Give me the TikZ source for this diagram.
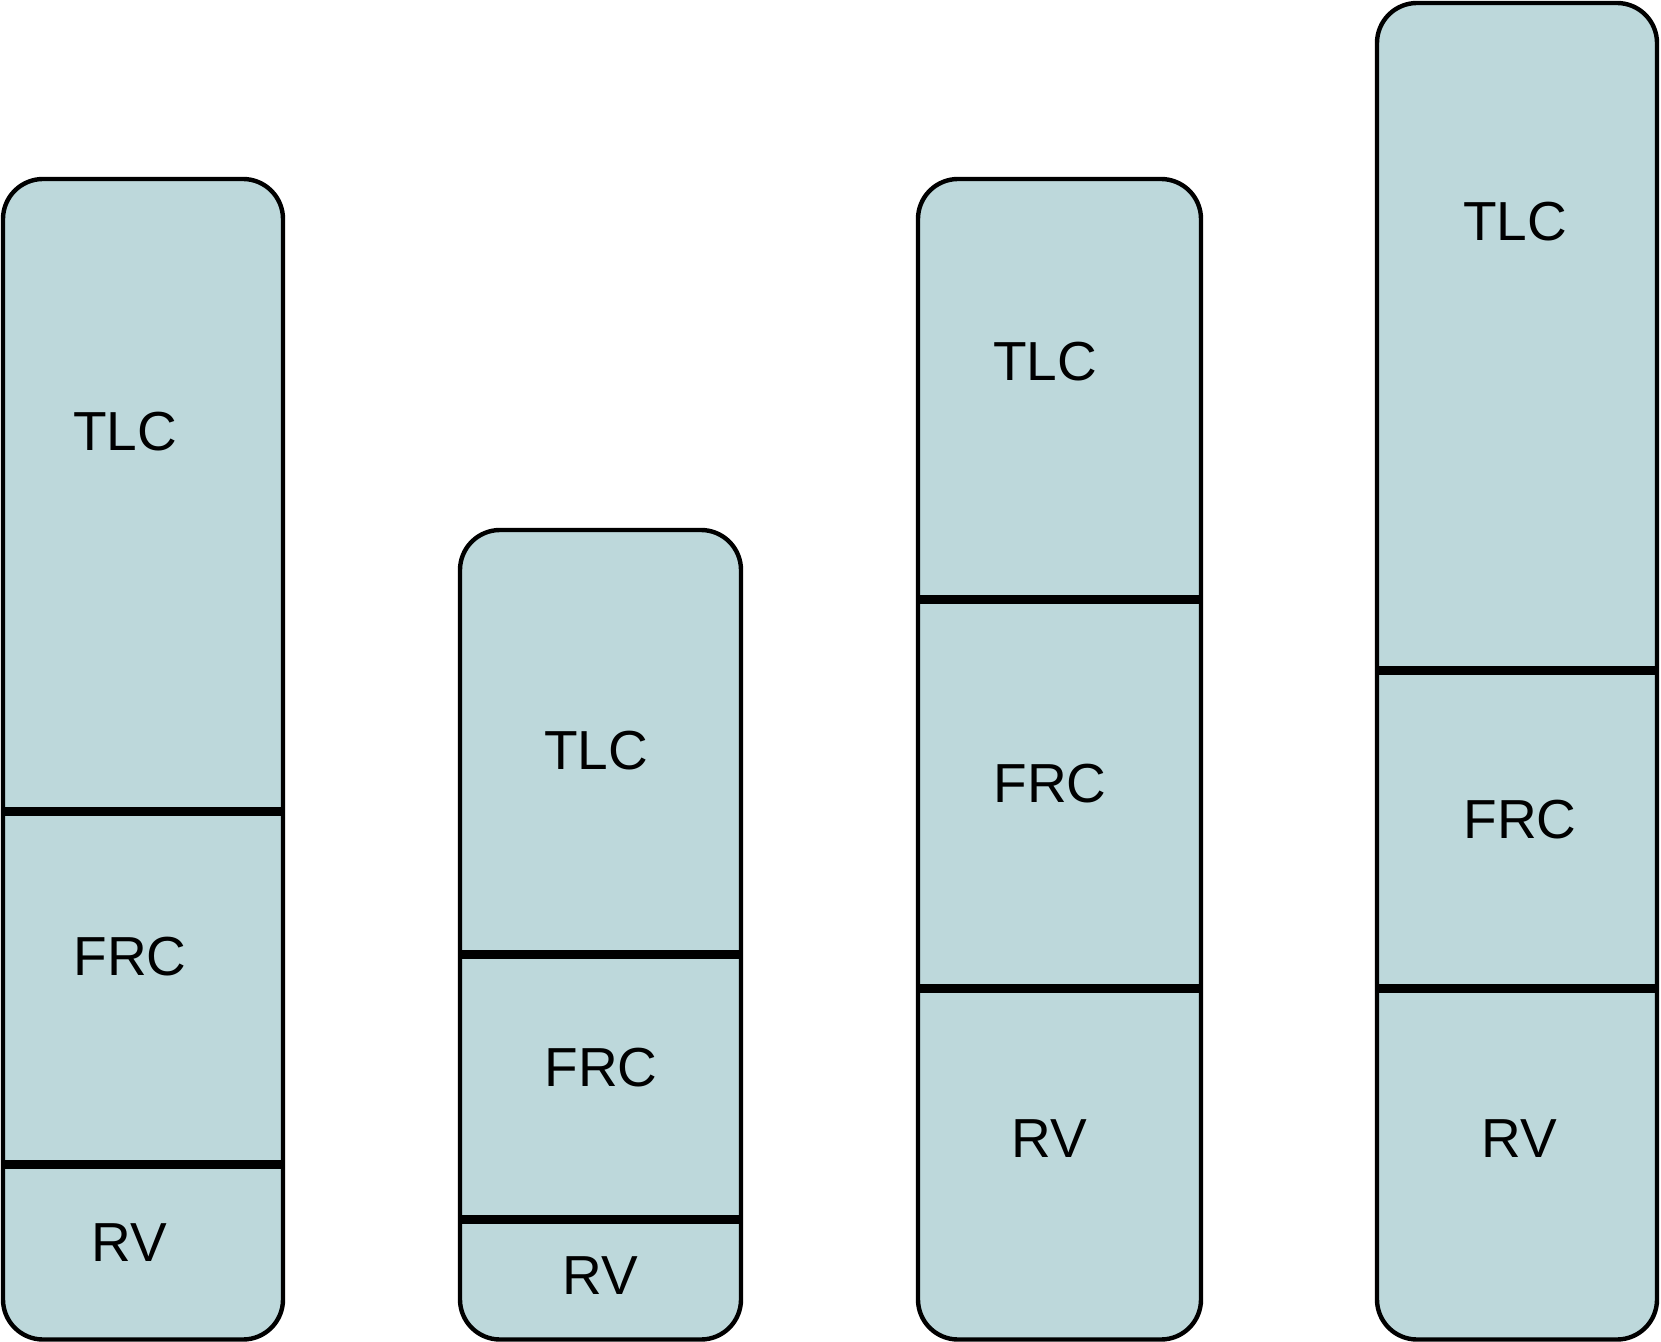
\documentclass[tikz,border=0pt]{standalone}
\usepackage{fontspec}
\setmainfont{Liberation Sans}
\definecolor{barfill}{RGB}{189,216,219}
\tikzset{
  bar/.style={draw=black, fill=barfill, line width=2.2pt, rounded corners=20pt},
  divider/.style={draw=black, line width=4.5pt},
  lbl/.style={font=\fontsize{27.5}{30}\selectfont, text=black, inner sep=0pt}
}
\begin{document}
\begin{tikzpicture}[x=0.5pt,y=-0.5pt]
\useasboundingbox (0,0) rectangle (1661,1342);
% Bar 1
\path[bar] (3,179) rectangle (283,1339.5);
\draw[divider] (3,811) -- (283,811);
\draw[divider] (3,1164) -- (283,1164);
\node[lbl] (tlc1) at (125,432) {TLC};
\node[lbl] (frc1) at (130,957) {FRC};
\node[lbl] (rv1) at (129,1243) {RV};
% Bar 2
\path[bar] (460,530) rectangle (741,1339.5);
\draw[divider] (460,954) -- (741,954);
\draw[divider] (460,1219) -- (741,1219);
\node[lbl] (tlc2) at (596,751) {TLC};
\node[lbl] (frc2) at (601,1068) {FRC};
\node[lbl] (rv2) at (600,1276) {RV};
% Bar 3
\path[bar] (918,179) rectangle (1201,1339.5);
\draw[divider] (918,600) -- (1201,600);
\draw[divider] (918,988) -- (1201,988);
\node[lbl] (tlc3) at (1045,362) {TLC};
\node[lbl] (frc3) at (1050,784) {FRC};
\node[lbl] (rv3) at (1049,1139) {RV};
% Bar 4
\path[bar] (1377,3) rectangle (1657,1339.5);
\draw[divider] (1377,670) -- (1657,670);
\draw[divider] (1377,988) -- (1657,988);
\node[lbl] (tlc4) at (1515,222) {TLC};
\node[lbl] (frc4) at (1520,820) {FRC};
\node[lbl] (rv4) at (1519,1139) {RV};
\end{tikzpicture}
\end{document}
